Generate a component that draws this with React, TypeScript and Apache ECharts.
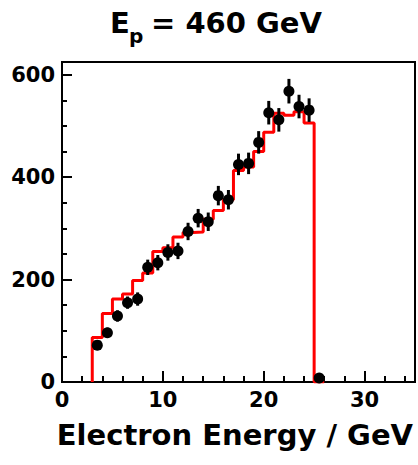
import React, { useEffect, useRef } from "react";
import * as echarts from "echarts";

// Simulation histogram (red): lower bin edges (GeV) and contents
const binLowEdges = [3, 4, 5, 6, 7, 8, 9, 10, 11, 12, 13, 14, 15, 16, 17, 18, 19, 20, 21, 22, 23, 24];
const simValues = [87, 134, 162, 172, 198, 213, 255, 262, 283, 292, 293, 318, 335, 356, 413, 420, 450, 488, 525, 521, 528, 506];
const binWidth = 1;

// Data points (black) with errors
const dataX = [3.5, 4.5, 5.5, 6.5, 7.5, 8.5, 9.5, 10.5, 11.5, 12.5, 13.5, 14.5, 15.5, 16.5, 17.5, 18.5, 19.5, 20.5, 21.5, 22.5, 23.5, 24.5, 25.5];
const dataY = [72, 96, 129, 155, 162, 224, 233, 253, 256, 294, 320, 313, 364, 356, 425, 427, 468, 526, 512, 568, 538, 531, 8];
const dataErr = [9, 10, 11, 12, 13, 15, 15, 16, 16, 17, 18, 18, 19, 19, 21, 21, 22, 23, 23, 24, 23, 23, 3];

const titleMain = "E";
const titleSub = "p";
const titleRest = "= 460 GeV";
const xAxisTitle = "Electron Energy / GeV";

const FONT = "DejaVu Sans";

export default function App() {
  const ref = useRef<HTMLDivElement>(null);
  useEffect(() => {
    if (!ref.current) return;
    const chart = echarts.init(ref.current, undefined, { renderer: "svg" });

    const lastEdge = binLowEdges[binLowEdges.length - 1] + binWidth;
    const histData: number[][] = [[binLowEdges[0], 0]];
    binLowEdges.forEach((e, i) => histData.push([e, simValues[i]]));
    histData.push([lastEdge, 0]);
    histData.push([lastEdge + binWidth, 0]);

    const pts = dataX.map((x, i) => [x, dataY[i]]);
    const errs = dataX.map((x, i) => [x, dataY[i] - dataErr[i], dataY[i] + dataErr[i]]);

    const labelStyle = {
      color: "#000",
      fontFamily: FONT,
      fontWeight: "bold" as const,
      fontSize: 21,
    };

    chart.setOption({
      animation: false,
      backgroundColor: "#fff",
      grid: {
        left: 62,
        top: 62,
        right: 1,
        bottom: 83,
        show: true,
        borderColor: "#000",
        borderWidth: 2,
        backgroundColor: "transparent",
      },
      xAxis: [
        {
          type: "value",
          min: 0,
          max: 35,
          interval: 10,
          position: "bottom",
          axisLine: { show: true, onZero: false, lineStyle: { color: "#000", width: 2 } },
          axisTick: { show: true, inside: true, length: 11, lineStyle: { color: "#000", width: 2 } },
          axisLabel: {
            ...labelStyle,
            margin: 7,
            formatter: (v: number) => (v % 10 === 0 ? String(v) : ""),
          },
          splitLine: { show: false },
        },
        {
          type: "value",
          min: 0,
          max: 35,
          interval: 2,
          position: "bottom",
          axisLine: { show: false },
          axisTick: { show: true, inside: true, length: 6, lineStyle: { color: "#000", width: 2 } },
          axisLabel: { show: false },
          splitLine: { show: false },
        },
      ],
      yAxis: [
        {
          type: "value",
          min: 0,
          max: 625,
          interval: 200,
          position: "left",
          axisLine: { show: true, onZero: false, lineStyle: { color: "#000", width: 2 } },
          axisTick: { show: true, inside: true, length: 10, lineStyle: { color: "#000", width: 2 } },
          axisLabel: {
            ...labelStyle,
            margin: 7,
            formatter: (v: number) => (v % 200 === 0 ? String(v) : ""),
          },
          splitLine: { show: false },
        },
        {
          type: "value",
          min: 0,
          max: 625,
          interval: 50,
          position: "left",
          axisLine: { show: false },
          axisTick: { show: true, inside: true, length: 5, lineStyle: { color: "#000", width: 2 } },
          axisLabel: { show: false },
          splitLine: { show: false },
        },
      ],
      graphic: [
        {
          type: "text",
          x: 110,
          y: 23,
          style: { text: titleMain, fill: "#000", fontFamily: FONT, fontWeight: "bold", fontSize: 29, align: "left", verticalAlign: "middle" },
        },
        {
          type: "text",
          x: 129,
          y: 36,
          style: { text: titleSub, fill: "#000", fontFamily: FONT, fontWeight: "bold", fontSize: 20, align: "left", verticalAlign: "middle" },
        },
        {
          type: "text",
          x: 151,
          y: 23,
          style: { text: titleRest, fill: "#000", fontFamily: FONT, fontWeight: "bold", fontSize: 29, align: "left", verticalAlign: "middle" },
        },
        {
          type: "text",
          x: 413,
          y: 435,
          style: { text: xAxisTitle, fill: "#000", fontFamily: FONT, fontWeight: "bold", fontSize: 29, align: "right", verticalAlign: "middle" },
        },
      ],
      series: [
        {
          type: "line",
          xAxisIndex: 0,
          yAxisIndex: 0,
          step: "end",
          data: histData,
          symbol: "none",
          lineStyle: { color: "#ff0000", width: 3 },
          z: 2,
        },
        {
          type: "custom",
          xAxisIndex: 0,
          yAxisIndex: 0,
          data: errs,
          encode: { x: 0, y: [1, 2] },
          renderItem: (params: any, api: any) => {
            const x = api.value(0);
            const p1 = api.coord([x, api.value(1)]);
            const p2 = api.coord([x, api.value(2)]);
            return {
              type: "line",
              shape: { x1: p1[0], y1: p1[1], x2: p2[0], y2: p2[1] },
              style: { stroke: "#000", lineWidth: 3 },
            };
          },
          z: 3,
        },
        {
          type: "scatter",
          xAxisIndex: 0,
          yAxisIndex: 0,
          data: pts,
          symbol: "circle",
          symbolSize: 11,
          itemStyle: { color: "#000", opacity: 1 },
          z: 4,
        },
      ],
    });
    return () => chart.dispose();
  }, []);
  return (
    <div
      ref={ref}
      style={{ position: "fixed", left: 0, top: 0, width: 418, height: 465, background: "#fff" }}
    />
  );
}
